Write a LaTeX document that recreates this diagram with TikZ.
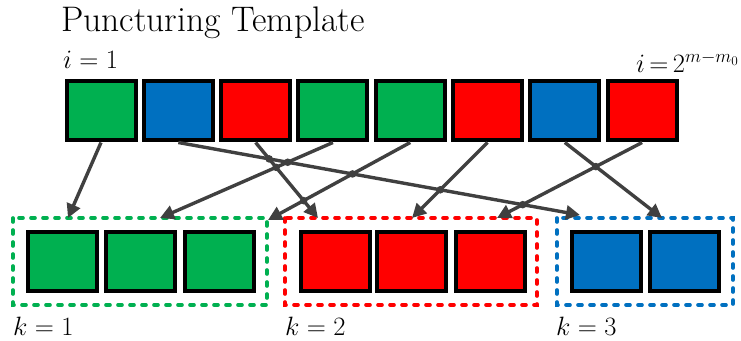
\RequirePackage{fix-cm}
\documentclass[tikz,border=0pt]{standalone}
\usetikzlibrary{arrows.meta,shadows,calc}
\definecolor{cgreen}{HTML}{00B050}
\definecolor{cblue}{HTML}{0070C0}
\definecolor{cred}{HTML}{FF0000}
\definecolor{carrow}{HTML}{404040}
\begin{document}
\begin{tikzpicture}[x=1pt,y=-1pt,
  cell/.style={draw=black, line width=4pt, minimum width=69pt, minimum height=59pt, inner sep=0pt,
    drop shadow={shadow xshift=1.2pt, shadow yshift=-1.2pt, opacity=0.2}},
  frame/.style={line width=3.6pt, line cap=round, dash pattern=on 4pt off 8pt},
  link/.style={draw=carrow, line width=3.4pt, -{Triangle[length=14pt,width=14pt]}},
  hop/.style={fill=carrow, draw=none},
  lbl/.style={inner sep=0pt, font=\fontsize{26.5}{30}\selectfont},
]
\useasboundingbox (0,0) rectangle (741,340);
% title and labels
\node[inner sep=0pt, anchor=base west, font=\fontsize{35.5}{42}\selectfont] (title) at (61,31) {Puncturing Template};
\node[lbl, anchor=base west] (ifirst) at (63,68) {$i=1$};
\node[lbl, anchor=base east] (ilast) at (739,72) {$\thickmuskip=3mu i=2^{m-m_0}$};
% top row
\foreach \c [count=\n] in {cgreen,cblue,cred,cgreen,cgreen,cred,cblue,cred}
  \node[cell, fill=\c] (t\n) at ({101+77.3*(\n-1)},110) {};
% frames
\draw[frame, draw=cgreen] (13,218) rectangle (267,305);
\draw[frame, draw=cred] (285,218) rectangle (537,305);
\draw[frame, draw=cblue] (557,218) rectangle (733,305);
% bottom boxes
\node[cell, fill=cgreen] (g1) at (62.5,261.5) {};
\node[cell, fill=cgreen] (g2) at (140,261.5) {};
\node[cell, fill=cgreen] (g3) at (219,261.5) {};
\node[cell, fill=cred] (r1) at (335,261.5) {};
\node[cell, fill=cred] (r2) at (411.5,261.5) {};
\node[cell, fill=cred] (r3) at (490,261.5) {};
\node[cell, fill=cblue] (b1) at (606,261.5) {};
\node[cell, fill=cblue] (b2) at (684.5,261.5) {};
% k labels
\node[lbl, anchor=base west] (k1) at (13,335) {$k=1$};
\node[lbl, anchor=base west] (k2) at (285,335) {$k=2$};
\node[lbl, anchor=base west] (k3) at (556,335) {$k=3$};
% arrow end points
\coordinate (e1) at (68,218);
\coordinate (e2) at (580,215);
\coordinate (e3) at (318,218);
\coordinate (e4) at (160,218);
\coordinate (e5) at (268,220);
\coordinate (e6) at (412,218);
\coordinate (e7) at (662,218);
\coordinate (e8) at (497,218);
\foreach \n in {1,...,8} \coordinate (s\n) at ([yshift=-1pt]t\n.south);
\foreach \n in {1,...,8} \draw[link] (s\n) -- (e\n);
% line hops at crossings
\fill[hop] (intersection of s2--e2 and s3--e3) circle (3.8pt);
\fill[hop] (intersection of s2--e2 and s4--e4) circle (3.8pt);
\fill[hop] (intersection of s2--e2 and s5--e5) circle (3.8pt);
\fill[hop] (intersection of s2--e2 and s6--e6) circle (3.8pt);
\fill[hop] (intersection of s2--e2 and s8--e8) circle (3.8pt);
\fill[hop] (intersection of s3--e3 and s4--e4) circle (3.8pt);
\fill[hop] (intersection of s3--e3 and s5--e5) circle (3.8pt);
\fill[hop] (intersection of s7--e7 and s8--e8) circle (3.8pt);
\end{tikzpicture}
\end{document}
